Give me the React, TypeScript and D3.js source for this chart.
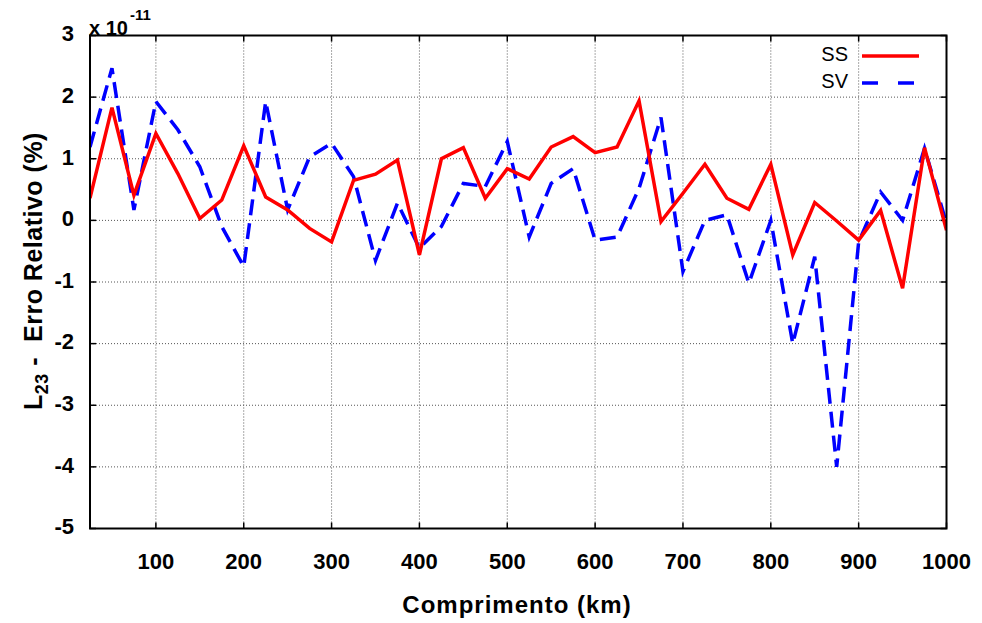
import { useMemo } from "react";
import * as d3 from "d3";

const distances = d3.range(25, 1001, 25);

const ssValues = [
  0.36, 1.83, 0.41, 1.41, 0.76, 0.03, 0.33, 1.21, 0.38, 0.17,
  -0.13, -0.35, 0.65, 0.75, 0.98, -0.56, 1.0, 1.18, 0.36, 0.84,
  0.67, 1.19, 1.36, 1.1, 1.19, 1.94, -0.02, 0.44, 0.91, 0.36,
  0.18, 0.91, -0.56, 0.29, -0.01, -0.32, 0.16, -1.1, 1.18, -0.16,
];

const svValues = [
  1.19, 2.47, 0.17, 1.93, 1.47, 0.87, -0.1, -0.75, 1.93, 0.17,
  1.03, 1.25, 0.71, -0.65, 0.28, -0.45, -0.1, 0.6, 0.55, 1.28,
  -0.27, 0.6, 0.84, -0.32, -0.27, 0.52, 1.67, -0.83, 0.0, 0.09,
  -1.02, 0.0, -2.0, -0.59, -4.0, -0.35, 0.46, 0.0, 1.17, -0.05,
];

const xTicks = [100, 200, 300, 400, 500, 600, 700, 800, 900, 1000];
const yTicks = [3, 2, 1, 0, -1, -2, -3, -4, -5];

const WIDTH = 982;
const HEIGHT = 623;
const plot = { left: 90, right: 946.5, top: 35.5, bottom: 528.5 };
const FONT = "'Liberation Sans', Arial, sans-serif";

export default function App() {
  const xScale = useMemo(
    () => d3.scaleLinear().domain([25, 1000]).range([plot.left, plot.right]),
    [],
  );
  const yScale = useMemo(
    () => d3.scaleLinear().domain([-5, 3]).range([plot.bottom, plot.top]),
    [],
  );

  const line = d3
    .line<number>()
    .x((_, i) => xScale(distances[i]))
    .y((d) => yScale(d));

  return (
    <svg
      width={WIDTH}
      height={HEIGHT}
      viewBox={`0 0 ${WIDTH} ${HEIGHT}`}
      style={{ position: "absolute", left: 0, top: 0, background: "#fff" }}
      fontFamily={FONT}
    >
      <defs>
        <clipPath id="plot-clip">
          <rect
            x={plot.left}
            y={plot.top}
            width={plot.right - plot.left}
            height={plot.bottom - plot.top}
          />
        </clipPath>
      </defs>

      {/* grid */}
      {xTicks.slice(0, -1).map((t) => (
        <line
          key={`gx-${t}`}
          x1={xScale(t)}
          x2={xScale(t)}
          y1={plot.top}
          y2={plot.bottom}
          stroke="#555"
          strokeWidth={1}
          strokeDasharray="1 2"
        />
      ))}
      {yTicks.slice(1, -1).map((t) => (
        <line
          key={`gy-${t}`}
          x1={plot.left}
          x2={plot.right}
          y1={yScale(t)}
          y2={yScale(t)}
          stroke="#555"
          strokeWidth={1}
          strokeDasharray="1 2"
        />
      ))}

      {/* ticks (inward) */}
      {xTicks.map((t) => (
        <g key={`tx-${t}`}>
          <line x1={xScale(t)} x2={xScale(t)} y1={plot.bottom} y2={plot.bottom - 6} stroke="#000" strokeWidth={1.5} />
          <line x1={xScale(t)} x2={xScale(t)} y1={plot.top} y2={plot.top + 6} stroke="#000" strokeWidth={1.5} />
          <text
            x={xScale(t)}
            y={563}
            textAnchor="middle"
            dominantBaseline="middle"
            fontSize={22}
            fontWeight="bold"
          >
            {t}
          </text>
        </g>
      ))}
      {yTicks.map((t) => (
        <g key={`ty-${t}`}>
          <line x1={plot.left} x2={plot.left + 6} y1={yScale(t)} y2={yScale(t)} stroke="#000" strokeWidth={1.5} />
          <line x1={plot.right} x2={plot.right - 6} y1={yScale(t)} y2={yScale(t)} stroke="#000" strokeWidth={1.5} />
          <text
            x={74}
            y={yScale(t)}
            textAnchor="end"
            dominantBaseline="middle"
            fontSize={22}
            fontWeight="bold"
          >
            {t}
          </text>
        </g>
      ))}

      {/* series */}
      <g clipPath="url(#plot-clip)">
        <path
          d={line(svValues) ?? ""}
          fill="none"
          stroke="#0000ff"
          strokeWidth={3.5}
          strokeDasharray="16 8"
        />
        <path d={line(ssValues) ?? ""} fill="none" stroke="#ff0000" strokeWidth={3.5} />
      </g>

      {/* frame */}
      <rect
        x={plot.left}
        y={plot.top}
        width={plot.right - plot.left}
        height={plot.bottom - plot.top}
        fill="none"
        stroke="#000"
        strokeWidth={2}
      />

      {/* legend */}
      <text x={848} y={56} textAnchor="end" dominantBaseline="middle" fontSize={20}>
        SS
      </text>
      <line x1={862} x2={919} y1={56} y2={56} stroke="#ff0000" strokeWidth={3.5} />
      <text x={848} y={83} textAnchor="end" dominantBaseline="middle" fontSize={20}>
        SV
      </text>
      <line
        x1={862}
        x2={919}
        y1={83}
        y2={83}
        stroke="#0000ff"
        strokeWidth={3.5}
        strokeDasharray="16 20"
      />

      {/* exponent */}
      <text x={89} y={35} fontSize={20} fontWeight="bold">
        x 10
        <tspan dx={2} dy={-15} fontSize={15}>
          -11
        </tspan>
      </text>

      {/* axis titles */}
      <text
        x={517}
        y={607}
        textAnchor="middle"
        dominantBaseline="middle"
        fontSize={24}
        fontWeight="bold"
        letterSpacing={1}
      >
        Comprimento (km)
      </text>
      <text
        transform="translate(42,271) rotate(-90)"
        textAnchor="middle"
        fontSize={25}
        fontWeight="bold"
        letterSpacing={0.5}
        style={{ whiteSpace: "pre" }}
      >
        L<tspan fontSize={18} dy={6}>23</tspan>
        <tspan dy={-6}>{" -  Erro Relativo (%)"}</tspan>
      </text>
    </svg>
  );
}
